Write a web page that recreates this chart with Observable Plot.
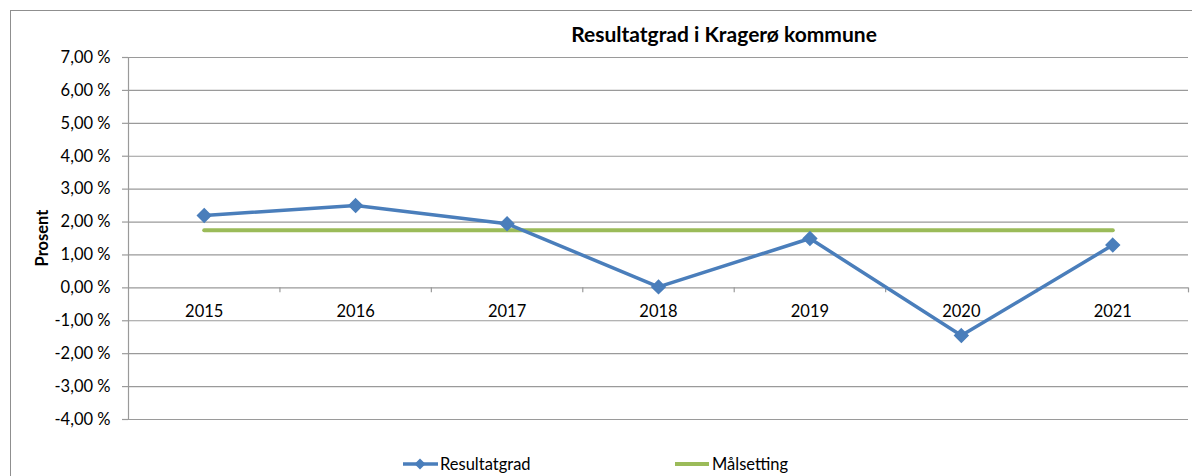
<!DOCTYPE html>
<html>
<head>
<meta charset="utf-8">
<script src="https://cdn.jsdelivr.net/npm/d3@7"></script>
<script src="https://cdn.jsdelivr.net/npm/@observablehq/plot@0.6"></script>
<style>
  html, body { margin: 0; padding: 0; background: #fff; overflow: hidden; }
  #wrap { position: relative; width: 1192px; height: 476px; font-family: Lato, "Open Sans", sans-serif; }
  #frame { position: absolute; left: 10px; top: 10px; width: 1300px; height: 600px; border: 1.5px solid #8f8f8f; box-sizing: border-box; pointer-events: none; }
  #title { position: absolute; left: 0; width: 1448px; top: 21px; line-height: 26px; text-align: center; font-weight: bold; font-size: 21px; color: #000; }
  #ylabel { position: absolute; left: 42px; top: 238px; transform: translate(-50%, -50%) rotate(-90deg); font-weight: bold; font-size: 16.5px; line-height: 20px; white-space: nowrap; color: #000; }
  #legend { position: absolute; top: 453px; left: 0; width: 1192px; height: 22px; font-size: 16.5px; color: #000; }
  .item { position: absolute; display: flex; align-items: center; }
  #chart { position: absolute; left: 0; top: 0; }
</style>
</head>
<body>
<div id="wrap">
  <div id="frame"></div>
  <div id="chart"></div>
  <div id="title">Resultatgrad i Kragerø kommune</div>
  <div id="ylabel">Prosent</div>
  <div id="legend"></div>
</div>
<script>
const years = [2015, 2016, 2017, 2018, 2019, 2020, 2021];
const resultatgrad = [2.2, 2.5, 1.95, 0.03, 1.5, -1.45, 1.3];
const malsetting = [1.75, 1.75, 1.75, 1.75, 1.75, 1.75, 1.75];
const yTicks = [-4, -3, -2, -1, 0, 1, 2, 3, 4, 5, 6, 7];
const seriesNames = ["Resultatgrad", "Målsetting"];
const colors = ["#4a7ebb", "#9bbb59"];

const rows1 = years.map((y, i) => ({year: y, value: resultatgrad[i]}));
const rows2 = years.map((y, i) => ({year: y, value: malsetting[i]}));
const bounds = d3.range(years.length + 1).map(i => years[0] - 0.5 + i);
const fmt = d => d.toFixed(2).replace(".", ",") + " %";
const gray = "#9a9a9a";

const chart = Plot.plot({
  width: 1192,
  height: 476,
  marginLeft: 128,
  marginRight: 4,
  marginTop: 57,
  marginBottom: 57,
  style: {fontFamily: "Lato, 'Open Sans', sans-serif", fontSize: "16.5px", color: "#000", background: "transparent"},
  x: {domain: [bounds[0], bounds[bounds.length - 1]], axis: null},
  y: {domain: [-4, 7], axis: null},
  marks: [
    Plot.gridY(yTicks, {stroke: gray, strokeOpacity: 1, strokeWidth: 1.2}),
    Plot.ruleX([bounds[0]], {y1: -4, y2: 7, stroke: gray, strokeWidth: 1.2}),
    Plot.axisY(yTicks, {tickSize: 6, tickPadding: 12, tickFormat: fmt, stroke: gray, strokeWidth: 1.2, label: null, fontSize: 16.5}),
    Plot.ruleX(bounds.slice(1), {y1: 0, y2: 0, insetBottom: -5, stroke: gray, strokeWidth: 1.2}),
    Plot.text(years, {x: d => d, y: 0, dy: 24, text: d => String(d), fontSize: 16.5, fill: "#000"}),
    Plot.lineY(rows2, {x: "year", y: "value", stroke: colors[1], strokeWidth: 4}),
    Plot.lineY(rows1, {x: "year", y: "value", stroke: colors[0], strokeWidth: 3.5}),
    Plot.dot(rows1, {x: "year", y: "value", symbol: "diamond2", r: 6, fill: colors[0], stroke: colors[0]})
  ]
});
document.getElementById("chart").appendChild(chart);

const legend = document.getElementById("legend");
const lefts = [403, 675];
seriesNames.forEach((name, i) => {
  const it = document.createElement("div");
  it.className = "item";
  it.style.left = lefts[i] + "px";
  it.style.top = "0px";
  const marker = i === 0
    ? `<svg width="35" height="22"><line x1="0" y1="11" x2="35" y2="11" stroke="${colors[0]}" stroke-width="3.5"/><path d="M17,5.5 L22.5,11 L17,16.5 L11.5,11 Z" fill="${colors[0]}"/></svg>`
    : `<svg width="35" height="22"><line x1="0" y1="11" x2="34" y2="11" stroke="${colors[1]}" stroke-width="4"/></svg>`;
  it.innerHTML = marker + `<span style="margin-left:2px">${name}</span>`;
  legend.appendChild(it);
});
</script>
</body>
</html>
